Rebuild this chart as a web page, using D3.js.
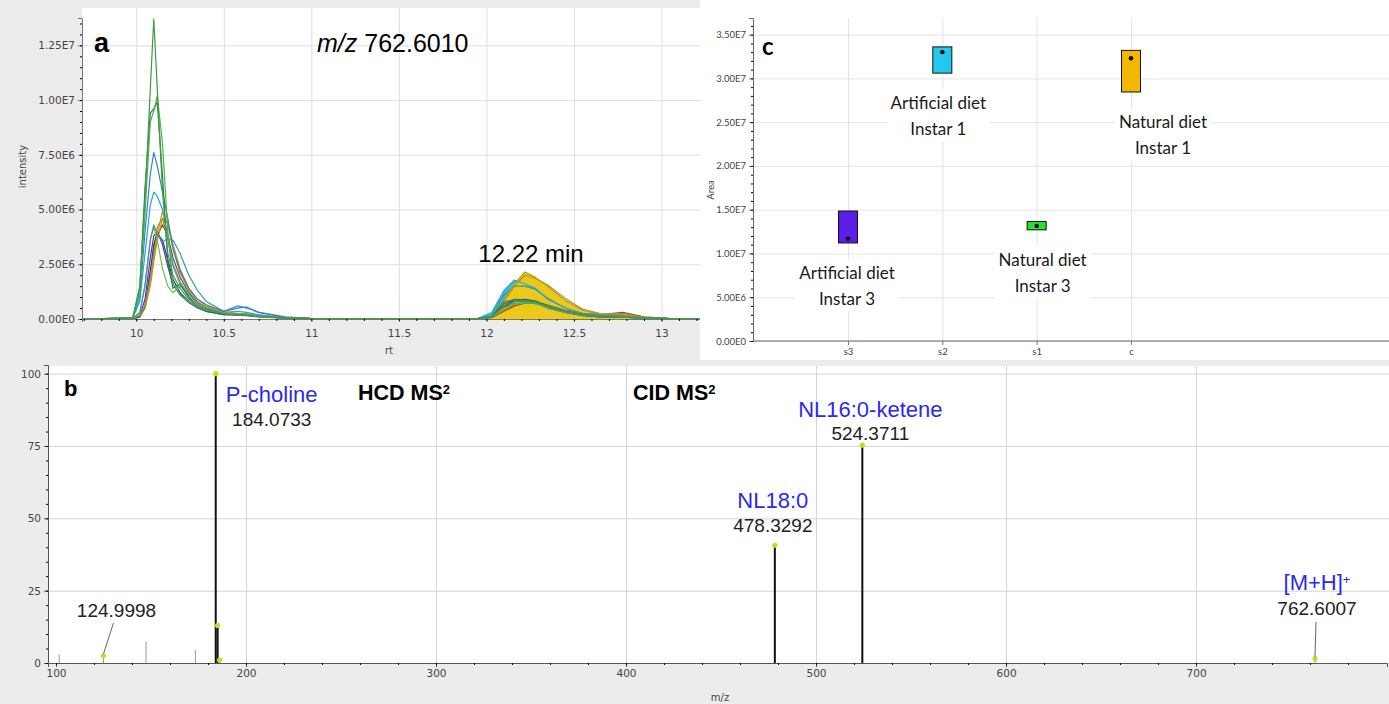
<!DOCTYPE html>
<html>
<head>
<meta charset="utf-8">
<script src="https://cdn.jsdelivr.net/npm/d3@7"></script>
<style>
    body { margin: 0; background: #fff; }
    svg text { font-family: "DejaVu Sans", sans-serif; }
</style>
</head>
<body>
<div id="fig"></div>
<script>
/* ---------- DATA: panel a (extracted ion chromatograms, intensity in 1E6) ---------- */
var rtGrid = [9.70, 9.98, 10.02, 10.05, 10.08, 10.10, 10.12, 10.15, 10.18, 10.21, 10.25, 10.30, 10.35, 10.40, 10.50, 10.58, 10.63, 10.70, 10.85, 11.00, 11.50, 11.95, 12.03, 12.10, 12.16, 12.22, 12.28, 12.35, 12.45, 12.55, 12.65, 12.78, 12.90, 13.05, 13.22];

var traceBrown  = [0, 0.02, 0.1, 0.5, 1.8, 3.0, 3.8, 4.3, 3.8, 2.8, 1.9, 1.2, 0.75, 0.5, 0.3, 0.22, 0.2, 0.14, 0.05, 0.02, 0.02, 0.02, 0.06, 0.35, 0.6, 0.72, 0.75, 0.6, 0.4, 0.25, 0.2, 0.3, 0.1, 0.02, 0.02];
var traceOrange = [0, 0.02, 0.12, 0.6, 2.0, 3.2, 4.2, 4.6, 3.6, 2.4, 1.6, 1.0, 0.65, 0.45, 0.28, 0.22, 0.2, 0.14, 0.05, 0.02, 0.02, 0.02, 0.08, 0.4, 0.65, 0.75, 0.78, 0.65, 0.4, 0.25, 0.2, 0.25, 0.08, 0.02, 0.02];
var traceOlive  = [0, 0.02, 0.1, 0.5, 1.5, 2.6, 3.6, 4.6, 4.4, 3.4, 2.3, 1.4, 0.9, 0.6, 0.3, 0.25, 0.25, 0.15, 0.05, 0.02, 0.02, 0.02, 0.1, 0.8, 1.5, 2.0, 1.85, 1.55, 0.95, 0.45, 0.25, 0.2, 0.07, 0.02, 0.02];
var traceNavy   = [0, 0.02, 0.1, 0.6, 2.2, 3.4, 3.9, 3.6, 2.7, 1.8, 1.2, 0.8, 0.55, 0.4, 0.25, 0.2, 0.18, 0.12, 0.04, 0.02, 0.02, 0.02, 0.1, 0.6, 0.85, 0.9, 0.82, 0.6, 0.35, 0.18, 0.1, 0.08, 0.04, 0.02, 0.02];
var tracePurple = [0, 0.02, 0.15, 0.9, 2.8, 3.8, 4.0, 3.4, 2.4, 1.6, 1.1, 0.75, 0.5, 0.35, 0.2, 0.18, 0.15, 0.1, 0.04, 0.02, 0.02, 0.02, 0.1, 0.55, 0.8, 0.85, 0.8, 0.6, 0.35, 0.18, 0.1, 0.08, 0.04, 0.02, 0.02];
var traceLime   = [0, 0.03, 0.25, 1.6, 3.6, 4.2, 3.6, 2.3, 1.5, 1.2, 1.5, 1.1, 0.7, 0.5, 0.3, 0.2, 0.2, 0.12, 0.05, 0.02, 0.02, 0.02, 0.1, 0.5, 0.7, 0.75, 0.7, 0.55, 0.3, 0.15, 0.1, 0.08, 0.04, 0.02, 0.02];
var traceTeal   = [0, 0.02, 0.3, 1.5, 3.6, 4.3, 3.9, 3.5, 3.7, 3.6, 3.0, 2.0, 1.3, 0.8, 0.35, 0.6, 0.5, 0.3, 0.08, 0.02, 0.02, 0.02, 0.15, 1.1, 1.5, 1.5, 1.35, 0.95, 0.5, 0.25, 0.18, 0.15, 0.06, 0.02, 0.02];
var traceCyan   = [0, 0.05, 0.8, 3.0, 5.2, 5.8, 5.6, 5.0, 3.8, 2.5, 1.7, 1.1, 0.7, 0.5, 0.3, 0.35, 0.3, 0.2, 0.06, 0.02, 0.02, 0.02, 0.3, 1.3, 1.78, 1.6, 1.4, 0.9, 0.5, 0.25, 0.15, 0.12, 0.05, 0.02, 0.02];
var traceGold   = [0, 0.02, 0.15, 0.6, 1.8, 2.9, 3.9, 4.9, 4.3, 3.2, 2.1, 1.3, 0.8, 0.55, 0.3, 0.25, 0.22, 0.14, 0.05, 0.02, 0.02, 0.02, 0.1, 0.9, 1.6, 2.15, 1.9, 1.5, 0.85, 0.4, 0.22, 0.18, 0.06, 0.02, 0.02];
var traceBlue   = [0, 0.05, 1.0, 4.0, 6.6, 7.6, 7.0, 5.8, 4.6, 3.2, 2.2, 1.4, 0.9, 0.65, 0.35, 0.5, 0.55, 0.3, 0.1, 0.03, 0.02, 0.02, 0.1, 0.8, 0.85, 0.8, 0.75, 0.5, 0.3, 0.2, 0.15, 0.12, 0.05, 0.02, 0.02];
var traceGreen3 = [0, 0.05, 1.4, 6.0, 9.4, 9.6, 9.9, 6.5, 2.6, 1.4, 1.6, 1.0, 0.55, 0.35, 0.2, 0.2, 0.2, 0.12, 0.05, 0.02, 0.02, 0.02, 0.12, 0.7, 0.9, 0.88, 0.8, 0.6, 0.3, 0.15, 0.1, 0.08, 0.04, 0.02, 0.02];
var traceGreen2 = [0, 0.05, 1.2, 4.8, 9.0, 9.5, 10.2, 8.0, 4.0, 1.6, 1.1, 0.8, 0.55, 0.4, 0.25, 0.2, 0.2, 0.12, 0.05, 0.02, 0.02, 0.02, 0.1, 0.5, 0.7, 0.75, 0.7, 0.55, 0.3, 0.18, 0.12, 0.1, 0.04, 0.02, 0.02];
var traceGreen1 = [0, 0.05, 1.5, 5.5, 10.5, 13.7, 10.5, 5.8, 3.0, 2.0, 1.4, 0.9, 0.6, 0.45, 0.25, 0.2, 0.18, 0.12, 0.04, 0.02, 0.02, 0.02, 0.1, 0.6, 0.8, 0.85, 0.78, 0.6, 0.35, 0.2, 0.12, 0.1, 0.04, 0.02, 0.02];

var traces = [traceBrown, traceOrange, traceOlive, traceNavy, tracePurple, traceLime, traceTeal, traceCyan, traceGold, traceBlue, traceGreen3, traceGreen2, traceGreen1];
var traceColors = ["#8a4a2a", "#c87a28", "#b09a22", "#27408c", "#5b2bd6", "#6cc04a", "#3b95a8", "#1fa8d8", "#b8961a", "#3d7cc9", "#2a7d3a", "#4caf50", "#3c9c45"];
var integrationWindow = [11.95, 12.90];
var rtTicks = [10, 10.5, 11, 11.5, 12, 12.5, 13];
var intensityTicks = [0, 2.5e6, 5e6, 7.5e6, 1e7, 1.25e7];

/* ---------- DATA: panel c (peak areas per group) ---------- */
var groupNames = ["s3", "s2", "s1", "c"];
var areaLow  = [11.2e6, 30.6e6, 12.7e6, 28.45e6];
var areaHigh = [14.85e6, 33.6e6, 13.65e6, 33.2e6];
var areaMid  = [11.7e6, 33.0e6, 13.15e6, 32.3e6];
var groupColors = ["#5a1ee8", "#22c8ef", "#28e030", "#f5b800"];
var groupLabels = [["Artificial diet", "Instar 3"], ["Artificial diet", "Instar 1"], ["Natural diet", "Instar 3"], ["Natural diet", "Instar 1"]];
var areaTicks = [0, 5e6, 1e7, 1.5e7, 2e7, 2.5e7, 3e7, 3.5e7];

/* ---------- DATA: panel b (MS2 spectrum) ---------- */
var peakMz = [101.7, 124.9998, 147.4, 173.4, 184.0733, 185.0766, 186.08, 478.3292, 524.3711, 762.6007];
var peakIntensity = [3, 2.5, 7.5, 4.5, 100, 13, 1, 40.7, 75.3, 1.5];
var markedMz = [124.9998, 184.0733, 185.0766, 186.08, 478.3292, 524.3711, 762.6007];
var labelMz = [184.0733, 478.3292, 524.3711, 762.6007, 124.9998];
var labelNames = ["P-choline", "NL18:0", "NL16:0-ketene", "[M+H]", ""];
var mzTicks = [100, 200, 300, 400, 500, 600, 700];
var relTicks = [0, 25, 50, 75, 100];

function sciFormat(v) {
    return v.toExponential(2).replace("e+", "E");
}

/* ---------- PANEL A ---------- */
function drawChromatogram(svg) {
    var left = 82, right = 700, top = 18, bottom = 319;

    svg.append("rect").attr("x", 0).attr("y", 0).attr("width", 700).attr("height", 360).attr("fill", "#ececec");
    svg.append("rect").attr("x", left).attr("y", 8).attr("width", right - left).attr("height", bottom - 8).attr("fill", "#fff");

    var x = d3.scaleLinear().domain([9.69, 13.22]).range([left, right]);
    var y = d3.scaleLinear().domain([0, 1.375e7]).range([bottom, top]);

    // gridlines
    svg.append("g")
        .attr("transform", "translate(0," + bottom + ")")
        .call(d3.axisBottom(x).tickValues(rtTicks).tickSize(-(bottom - 8)).tickFormat(""))
        .call(g => g.select(".domain").remove())
        .selectAll("line").attr("stroke", "#dedede");
    svg.append("g")
        .attr("transform", "translate(" + left + ",0)")
        .call(d3.axisLeft(y).tickValues(intensityTicks).tickSize(-(right - left)).tickFormat(""))
        .call(g => g.select(".domain").remove())
        .selectAll("line").attr("stroke", "#dedede");

    // filled peak (integration window)
    var inWindow = (d, i) => rtGrid[i] >= integrationWindow[0] && rtGrid[i] <= integrationWindow[1];
    var area = d3.area()
        .defined(inWindow)
        .x((d, i) => x(rtGrid[i]))
        .y0(y(0))
        .y1(d => y(d * 1e6));
    svg.append("path").datum(traceCyan).attr("d", area).attr("fill", "#2cc0ec");
    svg.append("path").datum(traceGold).attr("d", area).attr("fill", "#ecc81a");

    var line = d3.line()
        .x((d, i) => x(rtGrid[i]))
        .y(d => y(d * 1e6));

    svg.selectAll("path.trace")
        .data(traces)
        .enter()
        .append("path")
        .attr("class", "trace")
        .attr("d", line)
        .attr("fill", "none")
        .attr("stroke", (d, i) => traceColors[i])
        .attr("stroke-width", 1.2)
        .attr("stroke-linejoin", "round");

    // axes
    var xAxis = svg.append("g")
        .attr("transform", "translate(0," + bottom + ")")
        .call(d3.axisBottom(x).tickValues(rtTicks).tickSize(3).tickFormat(d3.format("")));
    svg.append("g")
        .attr("transform", "translate(0," + bottom + ")")
        .call(d3.axisBottom(x).tickValues(d3.range(9.7, 13.21, 0.1)).tickSize(2).tickFormat(""))
        .call(g => g.select(".domain").remove());
    var yAxis = svg.append("g")
        .attr("transform", "translate(" + left + ",0)")
        .call(d3.axisLeft(y).tickValues(intensityTicks).tickSize(4).tickFormat(sciFormat));
    svg.append("g")
        .attr("transform", "translate(" + left + ",0)")
        .call(d3.axisLeft(y).tickValues(d3.range(0, 1.37e7, 5e5)).tickSize(2).tickFormat(""))
        .call(g => g.select(".domain").remove());

    [xAxis, yAxis].forEach(function (g) {
        g.selectAll("text").style("font-size", "10.5px").attr("fill", "#444");
        g.selectAll("line").attr("stroke", "#777");
        g.select(".domain").attr("stroke", "#777");
    });
    xAxis.selectAll("text").attr("dy", "1.1em");

    svg.append("text")
        .attr("transform", "translate(26," + ((top + bottom) / 2 - 2) + ") rotate(-90)")
        .style("text-anchor", "middle")
        .style("font-size", "10px")
        .attr("fill", "#444")
        .text("intensity");
    svg.append("text")
        .attr("x", (left + right) / 2 - 2)
        .attr("y", 354)
        .style("text-anchor", "middle")
        .style("font-size", "10px")
        .attr("fill", "#444")
        .text("rt");

    /* TEXT TITLES */
    svg.append("text")
        .attr("x", 94).attr("y", 52)
        .style("font-family", "Liberation Sans, Arial, sans-serif")
        .style("font-weight", "bold")
        .style("font-size", "27px")
        .text("a");

    var title = svg.append("text")
        .attr("x", 317).attr("y", 52)
        .style("font-family", "Liberation Sans, Arial, sans-serif")
        .style("font-size", "25px");
    title.append("tspan").style("font-style", "italic").text("m/z");
    title.append("tspan").text(" 762.6010");

    svg.append("text")
        .attr("x", 531).attr("y", 262)
        .style("text-anchor", "middle")
        .style("font-family", "Liberation Sans, Arial, sans-serif")
        .style("font-size", "24px")
        .text("12.22 min");
}

/* ---------- PANEL C ---------- */
function drawBoxPanel(svg) {
    var left = 753, right = 1389, top = 18, bottom = 341;
    var boxWidth = 19;
    var labelShift = [-1, -4, 6, 32];

    var x = d3.scalePoint().domain(groupNames).range([848, 1131]);
    var y = d3.scaleLinear().domain([0, 3.69e7]).range([bottom, top]);

    svg.append("g")
        .attr("transform", "translate(" + left + ",0)")
        .call(d3.axisLeft(y).tickValues(areaTicks).tickSize(-(right - left)).tickFormat(""))
        .call(g => g.select(".domain").remove())
        .selectAll("line").attr("stroke", "#e4e4e4");
    svg.append("g")
        .attr("transform", "translate(0," + bottom + ")")
        .call(d3.axisBottom(x).tickSize(-(bottom - top)).tickFormat(""))
        .call(g => g.select(".domain").remove())
        .selectAll("line").attr("stroke", "#e4e4e4");

    // labels with white backgrounds
    groupNames.forEach(function (g, i) {
        var grp = svg.append("g");
        var cx = x(g) + labelShift[i];
        var base = y(areaLow[i]) + 36;
        groupLabels[i].forEach(function (t, j) {
            grp.append("text")
                .attr("x", cx)
                .attr("y", base + j * 26)
                .style("text-anchor", "middle")
                .style("font-family", "Lato, sans-serif")
                .style("font-size", "17px")
                .attr("fill", "#1a1a1a")
                .text(t);
        });
        var bb = grp.node().getBBox();
        grp.insert("rect", "text")
            .attr("x", bb.x - 4).attr("y", bb.y - 3)
            .attr("width", bb.width + 8).attr("height", bb.height + 6)
            .attr("fill", "#fff");
    });

    /* DRAW BOXES */
    svg.selectAll("rect.box")
        .data(groupNames)
        .enter()
        .append("rect")
        .attr("class", "box")
        .attr("x", d => x(d) - boxWidth / 2)
        .attr("y", (d, i) => y(areaHigh[i]))
        .attr("width", boxWidth)
        .attr("height", (d, i) => y(areaLow[i]) - y(areaHigh[i]))
        .attr("fill", (d, i) => groupColors[i])
        .attr("stroke", "#111")
        .attr("stroke-width", 1);

    svg.selectAll("circle.mid")
        .data(groupNames)
        .enter()
        .append("circle")
        .attr("class", "mid")
        .attr("cx", d => x(d))
        .attr("cy", (d, i) => y(areaMid[i]))
        .attr("r", 2.2)
        .attr("fill", "#000");

    var yAxis = svg.append("g")
        .attr("transform", "translate(" + left + ",0)")
        .call(d3.axisLeft(y).tickValues(areaTicks).tickSize(4).tickFormat(sciFormat));
    svg.append("g")
        .attr("transform", "translate(" + left + ",0)")
        .call(d3.axisLeft(y).tickValues(d3.range(0, 3.68e7, 1e6)).tickSize(2).tickFormat(""))
        .call(g => g.select(".domain").remove());
    var xAxis = svg.append("g")
        .attr("transform", "translate(0," + bottom + ")")
        .call(d3.axisBottom(x).tickSize(4));
    xAxis.select(".domain").attr("d", "M" + left + ",0H" + right);

    [xAxis, yAxis].forEach(function (g) {
        g.selectAll("text").style("font-family", "Lato, sans-serif").style("font-size", "9.5px").attr("fill", "#444");
        g.selectAll("line").attr("stroke", "#777");
        g.select(".domain").attr("stroke", "#666");
    });

    svg.append("text")
        .attr("transform", "translate(714,190) rotate(-90)")
        .style("text-anchor", "middle")
        .style("font-family", "Lato, sans-serif")
        .style("font-size", "9.5px")
        .attr("fill", "#444")
        .text("Area");

    svg.append("text")
        .attr("x", 762).attr("y", 55)
        .style("font-family", "Lato, sans-serif")
        .style("font-weight", "bold")
        .style("font-size", "24px")
        .text("c");
}

/* ---------- PANEL B ---------- */
function drawSpectrum(svg) {
    var left = 48, right = 1387, top = 365, bottom = 663;

    svg.append("rect").attr("x", 0).attr("y", 360).attr("width", 1389).attr("height", 344).attr("fill", "#ececec");
    svg.append("rect").attr("x", left).attr("y", 366).attr("width", 1389 - left).attr("height", bottom - 366).attr("fill", "#fff");

    var x = d3.scaleLinear().domain([95.8, 800.5]).range([left, right]);
    var y = d3.scaleLinear().domain([0, 103]).range([bottom, top]);

    svg.append("g")
        .attr("transform", "translate(0," + bottom + ")")
        .call(d3.axisBottom(x).tickValues(mzTicks.slice(1)).tickSize(-(bottom - 366)).tickFormat(""))
        .call(g => g.select(".domain").remove())
        .selectAll("line").attr("stroke", "#d4d4d4");
    svg.append("g")
        .attr("transform", "translate(" + left + ",0)")
        .call(d3.axisLeft(y).tickValues(relTicks.slice(1)).tickSize(-(1389 - left)).tickFormat(""))
        .call(g => g.select(".domain").remove())
        .selectAll("line").attr("stroke", "#d4d4d4");

    /* DRAW STICKS */
    svg.selectAll("line.peak")
        .data(peakMz)
        .enter()
        .append("line")
        .attr("class", "peak")
        .attr("x1", d => x(d)).attr("x2", d => x(d))
        .attr("y1", y(0))
        .attr("y2", (d, i) => y(peakIntensity[i]))
        .attr("stroke", (d, i) => peakIntensity[i] > 10 ? "#111" : "#999")
        .attr("stroke-width", (d, i) => peakIntensity[i] > 10 ? 2 : 1);

    svg.selectAll("circle.mark")
        .data(markedMz)
        .enter()
        .append("circle")
        .attr("class", "mark")
        .attr("cx", d => x(d))
        .attr("cy", d => y(peakIntensity[peakMz.indexOf(d)]))
        .attr("r", 2.6)
        .attr("fill", "#c4dc22");

    var xAxis = svg.append("g")
        .attr("transform", "translate(0," + bottom + ")")
        .call(d3.axisBottom(x).tickValues(mzTicks).tickSize(4));
    svg.append("g")
        .attr("transform", "translate(0," + bottom + ")")
        .call(d3.axisBottom(x).tickValues(d3.range(100, 800, 20)).tickSize(2).tickFormat(""))
        .call(g => g.select(".domain").remove());
    var yAxis = svg.append("g")
        .attr("transform", "translate(" + left + ",0)")
        .call(d3.axisLeft(y).tickValues(relTicks).tickSize(4));
    svg.append("g")
        .attr("transform", "translate(" + left + ",0)")
        .call(d3.axisLeft(y).tickValues(d3.range(0, 101, 5)).tickSize(2).tickFormat(""))
        .call(g => g.select(".domain").remove());

    [xAxis, yAxis].forEach(function (g) {
        g.selectAll("text").style("font-size", "10.5px").attr("fill", "#444");
        g.selectAll("line").attr("stroke", "#555");
        g.select(".domain").attr("stroke", "#555");
    });

    svg.append("text")
        .attr("x", 720).attr("y", 701)
        .style("text-anchor", "middle")
        .style("font-size", "10px")
        .attr("fill", "#444")
        .text("m/z");

    /* PEAK ANNOTATIONS */
    // offsets from each peak: dx, name baseline, value baseline
    var labelLayout = [
        {dx: 56, nameY: 402, valueY: 426},
        {dx: -2, nameY: y(40.7) - 37, valueY: y(40.7) - 13},
        {dx: 8, nameY: y(75.3) - 28, valueY: y(75.3) - 5},
        {dx: 2, nameY: 590, valueY: 615},
        {dx: 13, nameY: 0, valueY: 617}
    ];
    var font = "Liberation Sans, Arial, sans-serif";

    labelMz.forEach(function (mz, i) {
        var lay = labelLayout[i];
        var cx = x(mz) + lay.dx;
        if (labelNames[i] !== "") {
            var t = svg.append("text")
                .attr("x", cx).attr("y", lay.nameY)
                .style("text-anchor", "middle")
                .style("font-family", font)
                .style("font-size", "22px")
                .attr("fill", "#2a2aee")
                .text(labelNames[i]);
            if (labelNames[i] === "[M+H]") {
                t.append("tspan").attr("dy", "-0.45em").style("font-size", "13px").text("+");
            }
        }
        svg.append("text")
            .attr("x", cx).attr("y", lay.valueY)
            .style("text-anchor", "middle")
            .style("font-family", font)
            .style("font-size", "19px")
            .attr("fill", "#222")
            .text(mz.toFixed(4));
    });

    // leader lines for the small peaks
    var idxLow = peakMz.indexOf(124.9998);
    svg.append("line")
        .attr("x1", x(124.9998) + 10).attr("y1", 623)
        .attr("x2", x(124.9998)).attr("y2", y(peakIntensity[idxLow]) - 2)
        .attr("stroke", "#666").attr("stroke-width", 1);
    var idxMH = peakMz.indexOf(762.6007);
    svg.append("line")
        .attr("x1", x(762.6007) + 1).attr("y1", 622)
        .attr("x2", x(762.6007)).attr("y2", y(peakIntensity[idxMH]) - 2)
        .attr("stroke", "#666").attr("stroke-width", 1);

    svg.append("text")
        .attr("x", 64).attr("y", 396)
        .style("font-family", font)
        .style("font-weight", "bold")
        .style("font-size", "22px")
        .text("b");

    [["HCD MS", 358], ["CID MS", 633]].forEach(function (p) {
        var t = svg.append("text")
            .attr("x", p[1]).attr("y", 400)
            .style("font-family", font)
            .style("font-weight", "bold")
            .style("font-size", "21.5px")
            .text(p[0]);
        t.append("tspan").attr("dy", "-0.45em").style("font-size", "13px").text("2");
    });
}

function main() {
    var svg = d3.select("#fig")
        .append("svg")
        .attr("width", 1389)
        .attr("height", 704)
        .style("display", "block");

    svg.append("rect").attr("width", 1389).attr("height", 704).attr("fill", "#fff");

    drawSpectrum(svg);
    drawChromatogram(svg);
    // panel c sits on a white background
    svg.append("rect").attr("x", 700).attr("y", 0).attr("width", 689).attr("height", 360).attr("fill", "#fff");
    drawBoxPanel(svg);
}

main();
</script>
</body>
</html>
